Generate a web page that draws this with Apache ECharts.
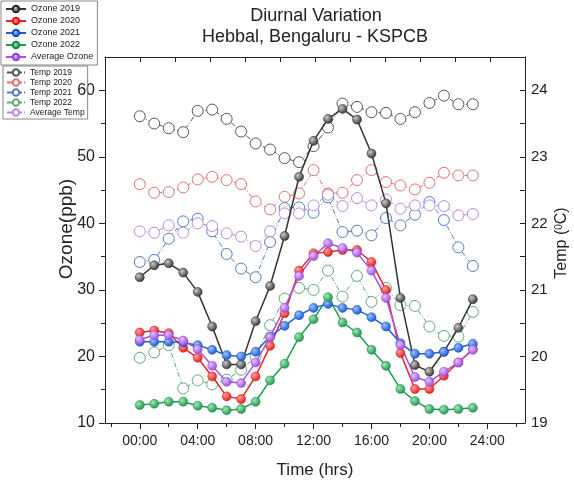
<!DOCTYPE html>
<html>
<head>
<meta charset="utf-8">
<script src="https://cdn.jsdelivr.net/npm/echarts@6/dist/echarts.min.js"></script>
<style>html,body{margin:0;padding:0;background:#fff}#c{width:574px;height:486px}</style>
</head>
<body>
<div id="c"></div>
<script>
const hours = [0,1,2,3,4,5,6,7,8,9,10,11,12,13,14,15,16,17,18,19,20,21,22,23];
const ozone2019 = [31.9,33.7,34.0,32.6,29.7,24.5,18.8,18.8,25.3,30.6,38.1,47.0,52.4,55.7,57.2,55.6,50.5,43.0,28.8,18.7,17.7,20.7,24.3,28.6];
const ozone2020 = [23.6,23.9,23.5,21.3,19.8,17.0,14.0,13.6,17.0,21.6,26.5,32.9,35.5,35.7,36.0,36.0,34.2,30.0,20.5,15.1,15.1,17.1,19.1,21.1];
const ozone2021 = [22.2,22.2,22.2,22.1,21.7,21.0,20.2,20.0,20.7,23.0,24.6,26.2,27.3,27.9,27.3,27.0,25.9,24.5,22.0,20.4,20.4,20.7,21.3,21.9];
const ozone2022 = [12.7,12.9,13.2,13.2,12.6,12.3,11.9,12.1,13.2,16.4,18.9,22.9,25.6,28.9,25.1,23.6,21.0,18.6,15.1,13.3,12.1,12.0,12.1,12.3];
const ozoneAvg  = [22.5,23.2,23.2,22.4,21.1,18.6,16.2,16.0,19.1,22.9,27.3,32.1,35.1,37.0,36.3,35.6,32.9,28.8,21.7,16.9,16.2,17.7,19.1,21.0];
const temp2019 = [23.61,23.50,23.43,23.37,23.69,23.71,23.57,23.38,23.20,23.11,22.98,22.92,23.16,23.44,23.80,23.75,23.67,23.66,23.57,23.67,23.81,23.92,23.79,23.79];
const temp2020 = [22.59,22.46,22.47,22.54,22.66,22.70,22.65,22.59,22.33,22.21,22.40,22.45,22.80,22.45,22.46,22.65,22.80,22.62,22.57,22.51,22.61,22.76,22.72,22.72];
const temp2021 = [21.42,21.45,21.77,22.03,22.07,21.88,21.54,21.32,21.19,21.72,22.23,22.24,22.16,22.39,21.87,21.89,21.82,22.08,21.97,22.13,22.32,22.05,21.64,21.36];
const temp2022 = [19.98,20.06,20.17,19.52,19.64,19.58,19.65,19.80,20.00,20.47,20.87,21.03,21.00,21.29,20.90,21.21,20.82,21.03,20.77,20.76,20.45,20.31,20.30,20.67];
const tempAvg  = [21.88,21.86,21.97,21.86,22.00,21.96,21.85,21.80,21.66,21.88,22.15,22.15,22.27,22.43,22.26,22.38,22.27,22.36,22.22,22.27,22.27,22.26,22.12,22.14];

const xTickHours = [0,4,8,12,16,20,24];
const xTickLabels = ['00:00','04:00','08:00','12:00','16:00','20:00','24:00'];
const xMinorHours = [-2,2,6,10,14,18,22,26];
const ozoneTicks = [10,20,30,40,50,60];
const ozoneMinor = [15,25,35,45,55];
const tempLabels = [19,20,21,22,23,24];
const tempTicks = [19,19.5,20,20.5,21,21.5,22,22.5,23,23.5,24];

const FONT = 'Arial, "Liberation Sans", sans-serif';

function sphere(light, dark) {
  return {type:'radial', x:0.35, y:0.35, r:0.75,
    colorStops:[{offset:0,color:light},{offset:1,color:dark}]};
}
function ozoneSeries(name, vals, lineColor, light, dark) {
  return {name, type:'line', xAxisIndex:0, yAxisIndex:0, z:5,
    data: hours.map((h,i)=>[h, vals[i]]),
    symbol:'circle', symbolSize:9,
    lineStyle:{color:lineColor, width:1.5},
    itemStyle:{color:sphere(light,dark), borderColor:dark, borderWidth:0.5},
    emphasis:{disabled:true}};
}
function tempSeries(name, vals, color) {
  return {name, type:'line', xAxisIndex:0, yAxisIndex:1, z:3,
    data: hours.map((h,i)=>[h, vals[i]]),
    symbol:'circle', symbolSize:11,
    lineStyle:{color:color, width:1, type:[5,2,1,2]},
    itemStyle:{color:'#ffffff', borderColor:color, borderWidth:1},
    emphasis:{disabled:true}};
}

const chart = echarts.init(document.getElementById('c'), null, {renderer:'canvas'});
const axisLineStyle = {color:'#222', width:1};
chart.setOption({
  animation:false,
  textStyle:{fontFamily:FONT},
  grid:{left:105, right:49, top:57, bottom:63, containLabel:false},
  xAxis:[
    {type:'value', position:'bottom', min:-2.4, max:26.6,
     axisLine:{show:true, onZero:false, lineStyle:axisLineStyle},
     axisTick:{show:true, inside:false, length:6, customValues:xTickHours, lineStyle:axisLineStyle},
     axisLabel:{show:true, margin:11, fontSize:14, color:'#222', fontFamily:FONT, customValues:xTickHours,
       formatter:(v)=>{const i=xTickHours.indexOf(v); return i>=0?xTickLabels[i]:'';}},
     splitLine:{show:false}},
    {type:'value', position:'top', min:0, max:12, interval:1,
     axisLine:{show:true, onZero:false, lineStyle:axisLineStyle},
     axisTick:{show:true, inside:true, length:5, lineStyle:axisLineStyle},
     axisLabel:{show:false}, splitLine:{show:false}},
    {type:'value', position:'bottom', min:-2.4, max:26.6,
     axisLine:{show:false, onZero:false},
     axisTick:{show:true, inside:false, length:4, customValues:xMinorHours, lineStyle:axisLineStyle},
     axisLabel:{show:false}, splitLine:{show:false}}
  ],
  yAxis:[
    {type:'value', position:'left', min:10, max:65,
     axisLine:{show:true, onZero:false, lineStyle:axisLineStyle},
     axisTick:{show:true, inside:false, length:6, customValues:ozoneTicks, lineStyle:axisLineStyle},
     axisLabel:{show:true, margin:10, fontSize:16, color:'#222', fontFamily:FONT, customValues:ozoneTicks},
     splitLine:{show:false}},
    {type:'value', position:'right', min:19, max:24.5,
     axisLine:{show:true, onZero:false, lineStyle:axisLineStyle},
     axisTick:{show:true, inside:true, length:5, customValues:tempTicks, lineStyle:axisLineStyle},
     axisLabel:{show:true, margin:6, fontSize:15, color:'#222', fontFamily:FONT, customValues:tempLabels},
     splitLine:{show:false}},
    {type:'value', position:'left', min:10, max:65,
     axisLine:{show:false, onZero:false},
     axisTick:{show:true, inside:false, length:4, customValues:ozoneMinor, lineStyle:axisLineStyle},
     axisLabel:{show:false}, splitLine:{show:false}}
  ],
  legend:[
    {data:['Ozone 2019','Ozone 2020','Ozone 2021','Ozone 2022','Average Ozone'],
     orient:'vertical', left:1, top:1, itemWidth:20, itemHeight:8, itemGap:2,
     padding:[3,4,3,4], borderColor:'#888', borderWidth:1, selectedMode:false,
     textStyle:{fontSize:9, lineHeight:10, color:'#222', fontFamily:FONT}},
    {data:['Temp 2019','Temp 2020','Temp 2021','Temp 2022','Average Temp'],
     orient:'vertical', left:3, top:66, itemWidth:18, itemHeight:8, itemGap:1,
     padding:[2,3,2,3], borderColor:'#888', borderWidth:1, selectedMode:false,
     textStyle:{fontSize:8.5, lineHeight:9, color:'#222', fontFamily:FONT}}
  ],
  graphic:[
    {type:'text', x:316, y:16, style:{text:'Diurnal Variation', font:'18px '+FONT, fill:'#222', align:'center', verticalAlign:'middle'}},
    {type:'text', x:315, y:37, style:{text:'Hebbal, Bengaluru - KSPCB', font:'18px '+FONT, fill:'#222', align:'center', verticalAlign:'middle'}},
    {type:'text', x:315, y:470, style:{text:'Time (hrs)', font:'17px '+FONT, fill:'#222', align:'center', verticalAlign:'middle'}},
    {type:'text', x:67, y:229, rotation:Math.PI/2, style:{text:'Ozone(ppb)', font:'19px '+FONT, fill:'#222', align:'center', verticalAlign:'middle'}},
    {type:'text', x:562, y:243, rotation:Math.PI/2,
     style:{text:'Temp ({sup|0}C)', font:'16px '+FONT, fill:'#222', align:'center', verticalAlign:'middle',
       rich:{sup:{fontSize:10, fontFamily:FONT, fill:'#222', verticalAlign:'top', padding:[0,0,6,0]}}}}
  ],
  series:[
    tempSeries('Temp 2019', temp2019, '#555555'),
    tempSeries('Temp 2020', temp2020, '#e27272'),
    tempSeries('Temp 2021', temp2021, '#4f7cbf'),
    tempSeries('Temp 2022', temp2022, '#5eab7e'),
    tempSeries('Average Temp', tempAvg, '#b78ae2'),
    ozoneSeries('Ozone 2019', ozone2019, '#333333', '#c8c8c8', '#262626'),
    ozoneSeries('Ozone 2020', ozone2020, '#e8232b', '#ffa0a0', '#e01010'),
    ozoneSeries('Ozone 2021', ozone2021, '#1a5fd6', '#9cc0ff', '#0b4cc8'),
    ozoneSeries('Ozone 2022', ozone2022, '#1e9e50', '#9ee8b4', '#138a40'),
    ozoneSeries('Average Ozone', ozoneAvg, '#a654e0', '#e8c0ff', '#9040d8')
  ]
});
</script>
</body>
</html>
